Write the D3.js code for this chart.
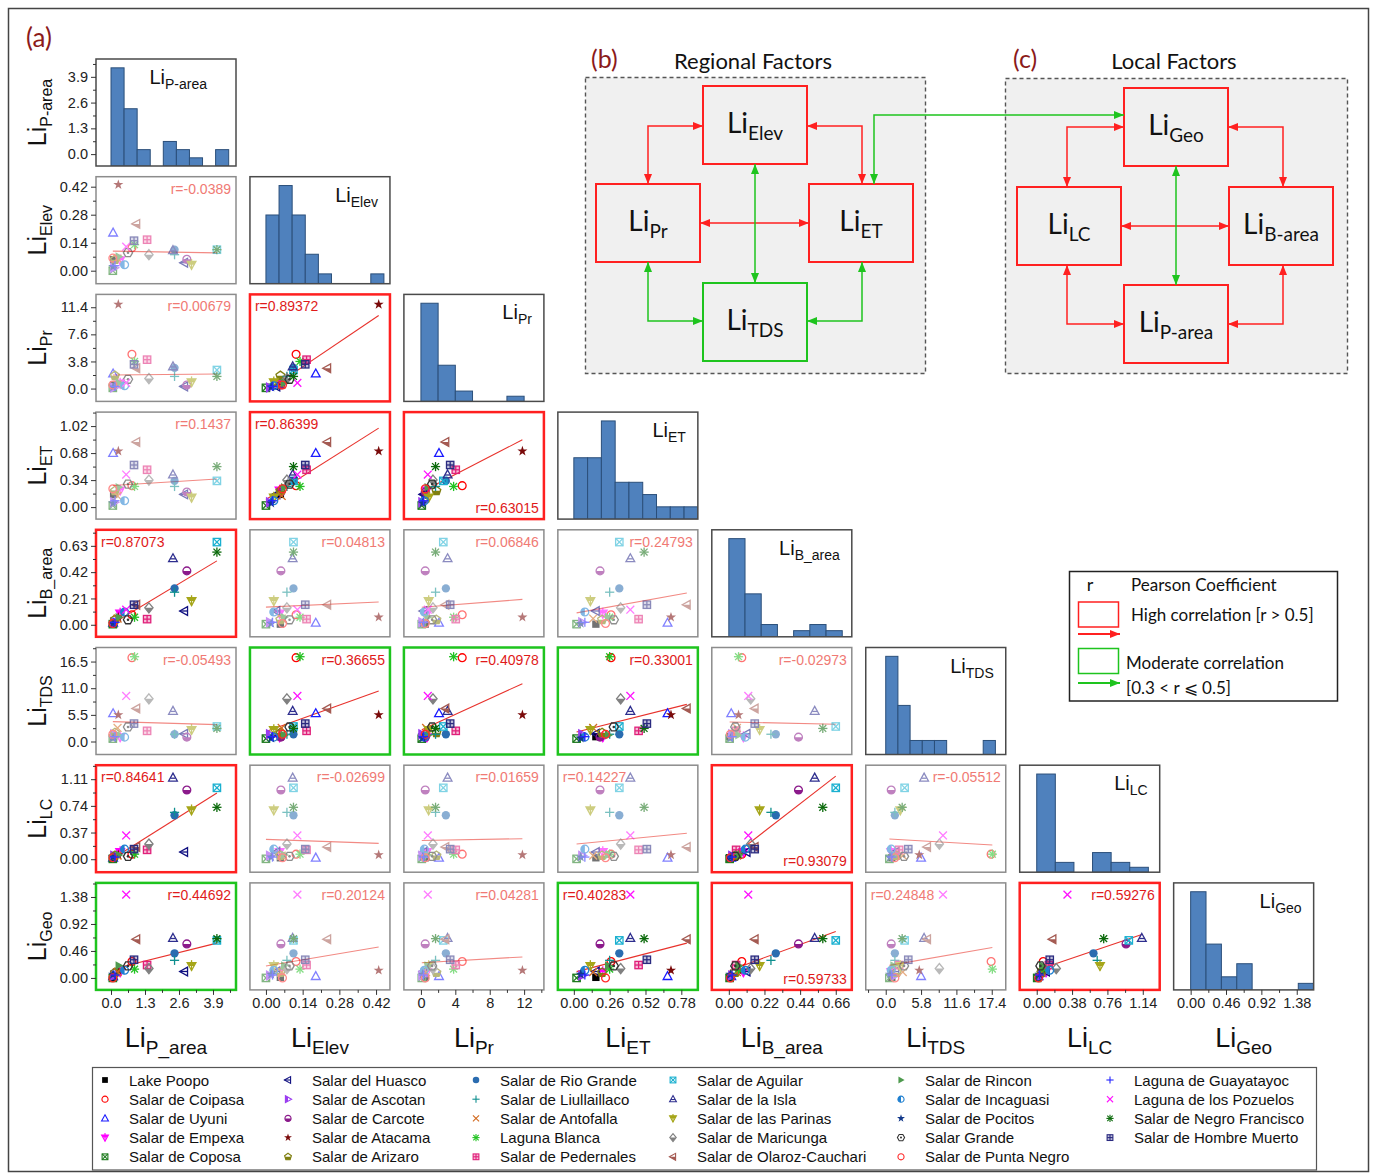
<!DOCTYPE html>
<html>
<head>
<meta charset="utf-8">
<script src="https://cdn.jsdelivr.net/npm/d3@7"></script>
<style>
  body { margin: 0; background: #fff; }
  text { font-family: "Liberation Sans", Arial, sans-serif; }
  .cal { font-family: Lato, "Open Sans", sans-serif; }
</style>
</head>
<body>
<svg id="fig" width="1373" height="1174"></svg>
<script>
// ---------------- data ----------------
const siteNames = [
  "Lake Poopo", "Salar de Coipasa", "Salar de Uyuni", "Salar de Empexa", "Salar de Coposa",
  "Salar del Huasco", "Salar de Ascotan", "Salar de Carcote", "Salar de Atacama", "Salar de Arizaro",
  "Salar de Rio Grande", "Salar de Liullaillaco", "Salar de Antofalla", "Laguna Blanca", "Salar de Pedernales",
  "Salar de Aguilar", "Salar de la Isla", "Salar de las Parinas", "Salar de Maricunga", "Salar de Olaroz-Cauchari",
  "Salar de Rincon", "Salar de Incaguasi", "Salar de Pocitos", "Salar Grande", "Salar de Punta Negro",
  "Laguna de Guayatayoc", "Laguna de los Pozuelos", "Salar de Negro Francisco", "Salar de Hombre Muerto"
];
const siteSymbols = [
  "square-fill", "circle-open", "tri-up-open", "tri-down-stem", "square-x",
  "tri-left-line", "tri-right-half", "circle-half", "star-fill", "pent-half",
  "circle-fill", "plus", "cross", "asterisk", "square-plus",
  "square-x", "tri-up-line", "tri-down-stem", "diamond-half", "tri-left-half",
  "tri-right-fill", "circle-half-left", "star-fill", "hex-dot", "circle-open",
  "plus", "cross", "asterisk", "square-plus"
];
const siteColors = [
  "#000000", "#ff0000", "#1a1aff", "#ff00ff", "#1d7a1d",
  "#101080", "#9a3cf0", "#8b1a8b", "#7a0a0a", "#7f7f10",
  "#2a6cb0", "#0f8f8f", "#d2691e", "#22c322", "#e0207a",
  "#1ab0d0", "#2e2e8e", "#a6a61a", "#808080", "#a45a52",
  "#4e9a4e", "#1e7fd0", "#13398a", "#333333", "#ff2a2a",
  "#2323ff", "#ff10ff", "#0b6a0b", "#2b2b80"
];

// lithium indices per site (same order as siteNames)
const liPArea = [0.10, 0.80, 0.08, 0.35, 0.07, 2.80, 0.12, 2.90, 0.28, 0.15,
                 2.43, 2.43, 0.25, 0.90, 1.38, 4.05, 2.37, 3.08, 1.45, 0.97,
                 0.30, 0.52, 0.08, 0.65, 0.07, 0.15, 0.58, 4.05, 0.88];
const liElev  = [0.055, 0.115, 0.19, 0.052, 0.0, 0.04, 0.015, 0.057, 0.43, 0.055,
                 0.105, 0.08, 0.06, 0.13, 0.155, 0.105, 0.102, 0.03, 0.08, 0.234,
                 0.07, 0.03, 0.02, 0.09, 0.063, 0.025, 0.12, 0.105, 0.15];
const liPr    = [0.5, 4.8, 2.1, 0.7, 0.1, 0.3, 0.15, 0.5, 11.8, 1.8,
                 2.9, 1.7, 0.6, 3.8, 4.05, 2.6, 3.1, 0.9, 1.4, 2.85,
                 0.8, 0.4, 0.2, 1.3, 0.5, 0.3, 0.8, 1.7, 3.4];
const liET    = [0.16, 0.27, 0.68, 0.21, 0.02, 0.16, 0.06, 0.19, 0.705, 0.205,
                 0.33, 0.26, 0.14, 0.26, 0.47, 0.33, 0.41, 0.12, 0.34, 0.82,
                 0.25, 0.08, 0.05, 0.29, 0.23, 0.08, 0.41, 0.51, 0.53];
const liBArea = [0.005, 0.08, 0.015, 0.09, 0.005, 0.11, 0.02, 0.43, 0.06, 0.04,
                 0.29, 0.26, 0.05, 0.06, 0.045, 0.66, 0.53, 0.19, 0.135, 0.16,
                 0.06, 0.102, 0.01, 0.04, 0.01, 0.02, 0.12, 0.58, 0.16];
const liTDS   = [1.0, 17.3, 5.8, 0.9, 0.6, 1.6, 1.5, 0.9, 5.5, 1.8,
                 1.5, 1.5, 2.8, 17.5, 2.2, 3.1, 6.3, 2.4, 8.8, 6.8,
                 1.3, 0.9, 0.7, 3.0, 1.5, 1.0, 9.4, 2.7, 3.7];
const liLC    = [0.02, 0.07, 0.02, 0.10, 0.005, 0.10, 0.05, 0.96, 0.06, 0.05,
                 0.61, 0.65, 0.05, 0.07, 0.13, 0.99, 1.13, 0.68, 0.21, 0.17,
                 0.06, 0.14, 0.03, 0.04, 0.02, 0.03, 0.33, 0.72, 0.14];
const liGeo   = [0.01, 0.28, 0.03, 0.10, 0.0, 0.11, 0.04, 0.58, 0.13, 0.09,
                 0.42, 0.30, 0.10, 0.15, 0.22, 0.64, 0.68, 0.205, 0.16, 0.66,
                 0.21, 0.13, 0.06, 0.205, 0.0, 0.05, 1.42, 0.67, 0.31];

const factorValues = [liPArea, liElev, liPr, liET, liBArea, liTDS, liLC, liGeo];
const rowSubs = ["P-area", "Elev", "Pr", "ET", "B_area", "TDS", "LC", "Geo"];
const colSubs = ["P_area", "Elev", "Pr", "ET", "B_area", "TDS", "LC", "Geo"];
const histSubs = ["P-area", "Elev", "Pr", "ET", "B_area", "TDS", "LC", "Geo"];
const binWidths = [0.5, 0.05, 2, 0.1, 0.1, 2, 0.2, 0.2];

// Pearson coefficients for the lower triangle: pearsonR[row][col]
const pearsonR = [
  [],
  [-0.0389],
  [0.00679, 0.89372],
  [0.1437, 0.86399, 0.63015],
  [0.87073, 0.04813, 0.06846, 0.24793],
  [-0.05493, 0.36655, 0.40978, 0.33001, -0.02973],
  [0.84641, -0.02699, 0.01659, 0.14227, 0.93079, -0.05512],
  [0.44692, 0.20124, 0.04281, 0.40283, 0.59733, 0.24848, 0.59276]
];
const pearsonText = [
  [],
  ["r=-0.0389"],
  ["r=0.00679", "r=0.89372"],
  ["r=0.1437", "r=0.86399", "r=0.63015"],
  ["r=0.87073", "r=0.04813", "r=0.06846", "r=0.24793"],
  ["r=-0.05493", "r=0.36655", "r=0.40978", "r=0.33001", "r=-0.02973"],
  ["r=0.84641", "r=-0.02699", "r=0.01659", "r=0.14227", "r=0.93079", "r=-0.05512"],
  ["r=0.44692", "r=0.20124", "r=0.04281", "r=0.40283", "r=0.59733", "r=0.24848", "r=0.59276"]
];

// axis ticks
const xTickValues = [[0,1.3,2.6,3.9],[0,0.14,0.28,0.42],[0,4,8,12],[0,0.26,0.52,0.78],
                     [0,0.22,0.44,0.66],[0,5.8,11.6,17.4],[0,0.38,0.76,1.14],[0,0.46,0.92,1.38]];
const xTickLabels = [["0.0","1.3","2.6","3.9"],["0.00","0.14","0.28","0.42"],["0","4","8","12"],
                     ["0.00","0.26","0.52","0.78"],["0.00","0.22","0.44","0.66"],["0.0","5.8","11.6","17.4"],
                     ["0.00","0.38","0.76","1.14"],["0.00","0.46","0.92","1.38"]];
const yTickValues = [[0,1.3,2.6,3.9],[0,0.14,0.28,0.42],[0,3.8,7.6,11.4],[0,0.34,0.68,1.02],
                     [0,0.21,0.42,0.63],[0,5.5,11,16.5],[0,0.37,0.74,1.11],[0,0.46,0.92,1.38]];
const yTickLabels = [["0.0","1.3","2.6","3.9"],["0.00","0.14","0.28","0.42"],["0.0","3.8","7.6","11.4"],
                     ["0.00","0.34","0.68","1.02"],["0.00","0.21","0.42","0.63"],["0.0","5.5","11.0","16.5"],
                     ["0.00","0.37","0.74","1.11"],["0.00","0.46","0.92","1.38"]];

// axis ranges
const xDomains = [[-0.574,4.78],[-0.061,0.473],[-1.98,14.3],[-0.116,0.9],
                  [-0.105,0.759],[-3.28,19.7],[-0.183,1.322],[-0.221,1.60]];
const yDomains = [[-0.6,4.8],[-0.065,0.47],[-1.8,13.2],[-0.151,1.196],
                  [-0.096,0.758],[-2.68,19.4],[-0.18,1.304],[-0.204,1.62]];

// ---------------- layout ----------------
const W = 1373, H = 1174;
const PW = 140, PH = 107;
const panelX = j => 96 + j * 153.95;
const panelY = i => 59 + i * 117.7;
const N = 8;

// where each coefficient label sits inside its panel
const labelCorner = { "2-1":"tl", "3-1":"tl", "4-0":"tl", "6-0":"tl", "6-3":"tl", "7-3":"tl", "7-5":"tl",
                      "3-2":"br", "6-4":"br", "7-4":"br" };

const RED = "#ff2020", GREEN = "#1ec41e";
const svg = d3.select("#fig");
svg.append("rect").attr("width", W).attr("height", H).attr("fill", "#fff");
svg.append("rect").attr("x", 8.5).attr("y", 8.5).attr("width", 1360).attr("height", 1163)
  .attr("fill", "none").attr("stroke", "#444").attr("stroke-width", 1.5);

const defs = svg.append("defs");
defs.append("clipPath").attr("id", "halfLow").append("rect").attr("x", -20).attr("y", 0).attr("width", 40).attr("height", 20);
defs.append("clipPath").attr("id", "halfLeft").append("rect").attr("x", -20).attr("y", -20).attr("width", 20).attr("height", 40);
defs.append("clipPath").attr("id", "halfTop").append("rect").attr("x", -20).attr("y", -20).attr("width", 40).attr("height", 20);

// ---------------- symbols ----------------
const poly = pts => pts.map(p => p[0].toFixed(2) + "," + p[1].toFixed(2)).join(" ");
function shapeSet(s) {
  return {
    up: [[0, -s], [s * 0.95, s * 0.72], [-s * 0.95, s * 0.72]],
    down: [[0, s], [s * 0.95, -s * 0.72], [-s * 0.95, -s * 0.72]],
    left: [[-s, 0], [s * 0.72, -s * 0.95], [s * 0.72, s * 0.95]],
    right: [[s, 0], [-s * 0.72, -s * 0.95], [-s * 0.72, s * 0.95]],
    diamond: [[0, -s * 1.1], [s * 0.9, 0], [0, s * 1.1], [-s * 0.9, 0]],
    pent: d3.range(5).map(k => { const a = -Math.PI / 2 + k * 2 * Math.PI / 5; return [s * Math.cos(a), s * Math.sin(a)]; }),
    hex: d3.range(6).map(k => { const a = k * Math.PI / 3; return [s * Math.cos(a), s * Math.sin(a)]; }),
    star: d3.range(10).map(k => { const a = -Math.PI / 2 + k * Math.PI / 5; const r = k % 2 ? s * 0.45 : s * 1.15; return [r * Math.cos(a), r * Math.sin(a)]; })
  };
}
function drawSymbol(g, type, color, s) {
  const sh = shapeSet(s), sw = s > 4 ? 1.3 : 1.1;
  const outline = pts => g.append("polygon").attr("points", poly(pts)).attr("fill", "none").attr("stroke", color).attr("stroke-width", sw);
  const filled = (pts, clip) => { const p = g.append("polygon").attr("points", poly(pts)).attr("fill", color); if (clip) p.attr("clip-path", `url(#${clip})`); };
  const seg = (x1, y1, x2, y2) => g.append("line").attr("x1", x1).attr("y1", y1).attr("x2", x2).attr("y2", y2).attr("stroke", color).attr("stroke-width", sw);
  const a = s * 0.8;
  switch (type) {
    case "square-fill":
      g.append("rect").attr("x", -a).attr("y", -a).attr("width", 2 * a).attr("height", 2 * a).attr("fill", color); break;
    case "circle-open":
      g.append("circle").attr("r", s * 0.85).attr("fill", "none").attr("stroke", color).attr("stroke-width", sw); break;
    case "circle-fill":
      g.append("circle").attr("r", s * 0.9).attr("fill", color); break;
    case "circle-half":
      g.append("circle").attr("r", s * 0.85).attr("fill", color).attr("clip-path", "url(#halfLow)");
      g.append("circle").attr("r", s * 0.85).attr("fill", "none").attr("stroke", color).attr("stroke-width", sw); break;
    case "circle-half-left":
      g.append("circle").attr("r", s * 0.85).attr("fill", color).attr("clip-path", "url(#halfLeft)");
      g.append("circle").attr("r", s * 0.85).attr("fill", "none").attr("stroke", color).attr("stroke-width", sw); break;
    case "tri-up-open": outline(sh.up); break;
    case "tri-up-line": outline(sh.up); seg(-s * 0.55, s * 0.1, s * 0.55, s * 0.1); break;
    case "tri-down-stem": filled(sh.down, "halfTop"); outline(sh.down); seg(0, -s * 1.25, 0, s); break;
    case "tri-left-line": outline(sh.left); seg(-s, 0, s * 0.72, 0); break;
    case "tri-left-half": filled(sh.left, "halfLow"); outline(sh.left); break;
    case "tri-right-half": filled(sh.right, "halfLeft"); outline(sh.right); break;
    case "tri-right-fill": filled(sh.right); break;
    case "diamond-half": filled(sh.diamond, "halfLow"); outline(sh.diamond); break;
    case "pent-half": filled(sh.pent, "halfLow"); outline(sh.pent); break;
    case "hex-dot": outline(sh.hex); g.append("circle").attr("r", s * 0.28).attr("fill", color); break;
    case "star-fill": filled(sh.star); break;
    case "square-x":
      g.append("rect").attr("x", -a).attr("y", -a).attr("width", 2 * a).attr("height", 2 * a).attr("fill", "none").attr("stroke", color).attr("stroke-width", sw);
      seg(-a, -a, a, a); seg(-a, a, a, -a); break;
    case "square-plus":
      g.append("rect").attr("x", -a).attr("y", -a).attr("width", 2 * a).attr("height", 2 * a).attr("fill", color).attr("fill-opacity", 0.3).attr("stroke", color).attr("stroke-width", sw);
      seg(-a, 0, a, 0); seg(0, -a, 0, a); break;
    case "plus": seg(-s, 0, s, 0); seg(0, -s, 0, s); break;
    case "cross": seg(-s * 0.85, -s * 0.85, s * 0.85, s * 0.85); seg(-s * 0.85, s * 0.85, s * 0.85, -s * 0.85); break;
    case "asterisk":
      seg(-s, 0, s, 0); seg(0, -s, 0, s);
      seg(-s * 0.75, -s * 0.75, s * 0.75, s * 0.75); seg(-s * 0.75, s * 0.75, s * 0.75, -s * 0.75); break;
  }
}

// "Li" with a subscript
function liLabel(sel, sub, big, small, shift) {
  sel.append("tspan").attr("font-size", big).text("Li");
  sel.append("tspan").attr("font-size", small).attr("dy", shift).text(sub);
}

// ---------------- scales ----------------
const xScales = d3.range(N).map(j => d3.scaleLinear().domain(xDomains[j]).range([panelX(j), panelX(j) + PW]));
const yScales = d3.range(N).map(i => d3.scaleLinear().domain(yDomains[i]).range([panelY(i) + PH, panelY(i)]));

function minorTicks(domain, majors) {
  const half = (majors[1] - majors[0]) / 2;
  const start = Math.ceil(domain[0] / half) * half;
  return d3.range(start, domain[1] + 1e-9, half).filter(v => !majors.some(m => Math.abs(m - v) < half * 0.1));
}
function linFit(xs, ys) {
  const mx = d3.mean(xs), my = d3.mean(ys);
  let sxy = 0, sxx = 0;
  xs.forEach((x, k) => { sxy += (x - mx) * (ys[k] - my); sxx += (x - mx) * (x - mx); });
  const b = sxy / sxx;
  return { a: my - b * mx, b };
}

const plot = svg.append("g");

// ---------------- panels ----------------
for (let i = 0; i < N; i++) {
  for (let j = 0; j <= i; j++) {
    const x0 = panelX(j), y0 = panelY(i);
    const g = plot.append("g");
    g.append("rect").attr("x", x0).attr("y", y0).attr("width", PW).attr("height", PH).attr("fill", "#fff");

    if (i === j) {
      // histogram of the factor
      const vals = factorValues[i];
      const bw = binWidths[i];
      const nb = Math.ceil((d3.max(vals) + 1e-9) / bw);
      const thresholds = d3.range(1, nb).map(k => +(k * bw).toFixed(6));
      const bins = d3.bin().domain([0, +(nb * bw).toFixed(6)]).thresholds(thresholds)(vals);
      const maxC = d3.max(bins, b => b.length);
      const yc = d3.scaleLinear().domain([0, maxC * 1.09]).range([y0 + PH, y0]);
      const xs = xScales[j];
      const clipId = "hclip" + i;
      defs.append("clipPath").attr("id", clipId).append("rect")
        .attr("x", x0).attr("y", y0).attr("width", PW).attr("height", PH);
      g.append("g").attr("clip-path", `url(#${clipId})`)
        .selectAll("rect").data(bins.filter(b => b.length > 0)).join("rect")
        .attr("x", b => xs(b.x0)).attr("width", b => xs(b.x1) - xs(b.x0))
        .attr("y", b => yc(b.length)).attr("height", b => y0 + PH - yc(b.length))
        .attr("fill", "#4f81bd").attr("stroke", "#2b4f7a").attr("stroke-width", 1);
      const t = g.append("text").attr("x", x0 + PW - (i === 0 ? 29 : 12)).attr("y", y0 + 25)
        .attr("text-anchor", "end").attr("fill", "#111");
      liLabel(t, histSubs[i], 20, 14, 5);
      g.append("rect").attr("x", x0).attr("y", y0).attr("width", PW).attr("height", PH)
        .attr("fill", "none").attr("stroke", "#4a4a4a").attr("stroke-width", 1.5);
    } else {
      const r = pearsonR[i][j];
      const strong = r > 0.5, moderate = r > 0.3 && r <= 0.5;
      const sig = strong || moderate;
      const xs = xScales[j], ys = yScales[i];
      const xv = factorValues[j], yv = factorValues[i];
      const fit = linFit(xv, yv);
      const xmin = d3.min(xv), xmax = d3.max(xv);
      g.append("line")
        .attr("x1", xs(xmin)).attr("y1", ys(fit.a + fit.b * xmin))
        .attr("x2", xs(xmax)).attr("y2", ys(fit.a + fit.b * xmax))
        .attr("stroke", sig ? "#e8322c" : "#f28a84").attr("stroke-width", 1.1);
      const mk = g.append("g").attr("opacity", sig ? 1 : 0.55);
      siteNames.forEach((name, k) => {
        const sg = mk.append("g").attr("transform", `translate(${xs(xv[k]).toFixed(2)},${ys(yv[k]).toFixed(2)})`);
        drawSymbol(sg, siteSymbols[k], siteColors[k], 4.6);
      });
      const corner = labelCorner[i + "-" + j] || "tr";
      const lt = g.append("text").attr("font-size", 14).attr("fill", sig ? "#e01a1a" : "#f07a74")
        .text(pearsonText[i][j]);
      if (corner === "tr") lt.attr("x", x0 + PW - 5).attr("y", y0 + 17).attr("text-anchor", "end");
      else if (corner === "tl") lt.attr("x", x0 + 5).attr("y", y0 + 17);
      else lt.attr("x", x0 + PW - 5).attr("y", y0 + PH - 6).attr("text-anchor", "end");
      g.append("rect").attr("x", x0).attr("y", y0).attr("width", PW).attr("height", PH)
        .attr("fill", "none")
        .attr("stroke", strong ? RED : moderate ? GREEN : "#8c8c8c")
        .attr("stroke-width", sig ? 2.5 : 1.5);
    }
  }
}

// ---------------- axes ----------------
function styleAxis(a) {
  a.select(".domain").remove();
  a.selectAll(".tick line").attr("stroke", "#333").attr("stroke-width", 1);
  a.selectAll(".tick text").attr("font-size", 14.5).attr("fill", "#222")
    .attr("font-family", "'Liberation Sans', Arial, sans-serif");
}
for (let i = 0; i < N; i++) {
  const ys = yScales[i];
  const ga = svg.append("g").attr("transform", `translate(${panelX(0)},0)`)
    .call(d3.axisLeft(ys).tickValues(yTickValues[i]).tickFormat((d, k) => yTickLabels[i][k]).tickSize(5).tickPadding(3));
  styleAxis(ga);
  const gm = svg.append("g").attr("transform", `translate(${panelX(0)},0)`)
    .call(d3.axisLeft(ys).tickValues(minorTicks(yDomains[i], yTickValues[i])).tickFormat("").tickSize(3));
  styleAxis(gm);
}
for (let j = 0; j < N; j++) {
  const xs = xScales[j];
  const yb = panelY(7) + PH;
  const ga = svg.append("g").attr("transform", `translate(0,${yb})`)
    .call(d3.axisBottom(xs).tickValues(xTickValues[j]).tickFormat((d, k) => xTickLabels[j][k]).tickSize(5).tickPadding(3));
  styleAxis(ga);
  const gm = svg.append("g").attr("transform", `translate(0,${yb})`)
    .call(d3.axisBottom(xs).tickValues(minorTicks(xDomains[j], xTickValues[j])).tickFormat("").tickSize(3));
  styleAxis(gm);
}

// axis titles
for (let j = 0; j < N; j++) {
  const t = svg.append("text").attr("x", panelX(j) + PW / 2).attr("y", 1047)
    .attr("text-anchor", "middle").attr("fill", "#111");
  liLabel(t, colSubs[j], 27, 19, 7);
}
for (let i = 0; i < N; i++) {
  const t = svg.append("text").attr("text-anchor", "middle").attr("fill", "#111")
    .attr("transform", `translate(46,${panelY(i) + PH / 2}) rotate(-90)`);
  liLabel(t, rowSubs[i], 25, 16, 6);
}

svg.append("text").attr("class", "cal").attr("x", 26).attr("y", 47).attr("font-size", 26).attr("fill", "#8b1a1a").text("(a)");

// ---------------- site legend ----------------
const leg = svg.append("g");
leg.append("rect").attr("x", 92.5).attr("y", 1067.5).attr("width", 1224).attr("height", 102.5)
  .attr("fill", "#fff").attr("stroke", "#555").attr("stroke-width", 1.2);
const legColX = [105, 288, 476, 673, 901, 1110];
siteNames.forEach((name, k) => {
  const c = Math.floor(k / 5), rr = k % 5;
  const cy = 1080 + rr * 19.2;
  const sg = leg.append("g").attr("transform", `translate(${legColX[c]},${cy})`);
  drawSymbol(sg, siteSymbols[k], siteColors[k], 3.6);
  leg.append("text").attr("x", legColX[c] + 24).attr("y", cy + 5.5).attr("font-size", 15).attr("fill", "#111").text(name);
});

// ---------------- factor diagrams ----------------
const diag = svg.append("g");
function arrowMarker(id, color) {
  defs.append("marker").attr("id", id).attr("viewBox", "0 0 10 8")
    .attr("refX", 10).attr("refY", 4).attr("markerWidth", 10).attr("markerHeight", 8)
    .attr("markerUnits", "userSpaceOnUse").attr("orient", "auto-start-reverse")
    .append("path").attr("d", "M0,0 L10,4 L0,8 Z").attr("fill", color);
}
arrowMarker("arrRed", RED);
arrowMarker("arrGreen", GREEN);

const regionBoxes = [
  { x: 585, y: 77, w: 340, h: 296, tag: "(b)", tagX: 591, title: "Regional Factors", titleX: 753 },
  { x: 1005, y: 78, w: 342, h: 295, tag: "(c)", tagX: 1013, title: "Local Factors", titleX: 1174 }
];
regionBoxes.forEach(b => {
  diag.append("rect").attr("x", b.x + 0.5).attr("y", b.y + 0.5).attr("width", b.w).attr("height", b.h)
    .attr("fill", "#f0f0f0").attr("stroke", "#555").attr("stroke-width", 1.4).attr("stroke-dasharray", "4 3");
  diag.append("text").attr("class", "cal").attr("x", b.tagX).attr("y", 68).attr("font-size", 25).attr("fill", "#8b1a1a").text(b.tag);
  diag.append("text").attr("class", "cal").attr("x", b.titleX).attr("y", 69).attr("text-anchor", "middle")
    .attr("font-size", 22).attr("fill", "#111").text(b.title);
});

const factorBoxes = [
  { sub: "Elev", x: 703, y: 86, color: RED },
  { sub: "Pr", x: 596, y: 184, color: RED },
  { sub: "ET", x: 809, y: 184, color: RED },
  { sub: "TDS", x: 703, y: 283, color: GREEN },
  { sub: "Geo", x: 1124, y: 88, color: RED },
  { sub: "LC", x: 1017, y: 187, color: RED },
  { sub: "B-area", x: 1229, y: 187, color: RED },
  { sub: "P-area", x: 1124, y: 285, color: RED }
];
const BW = 104, BH = 78;
factorBoxes.forEach(b => {
  diag.append("rect").attr("x", b.x).attr("y", b.y).attr("width", BW).attr("height", BH)
    .attr("fill", "none").attr("stroke", b.color).attr("stroke-width", 2);
  const t = diag.append("text").attr("class", "cal").attr("x", b.x + BW / 2).attr("y", b.y + BH / 2 + 8)
    .attr("text-anchor", "middle").attr("fill", "#111");
  liLabel(t, b.sub, 28, 19, 7);
});

const links = [
  { d: "M703,126 H648 V184", c: "red" },
  { d: "M807,126 H862 V184", c: "red" },
  { d: "M700,223 H809", c: "red" },
  { d: "M755,164 V283", c: "green" },
  { d: "M648,262 V321 H703", c: "green" },
  { d: "M862,262 V321 H807", c: "green" },
  { d: "M874,184 V115 H1124", c: "green" },
  { d: "M1124,127 H1067 V187", c: "red" },
  { d: "M1228,127 H1283 V187", c: "red" },
  { d: "M1121,226 H1229", c: "red" },
  { d: "M1176,166 V285", c: "green" },
  { d: "M1067,265 V324 H1124", c: "red" },
  { d: "M1283,265 V324 H1228", c: "red" }
];
links.forEach(l => {
  const id = l.c === "red" ? "arrRed" : "arrGreen";
  diag.append("path").attr("d", l.d).attr("fill", "none")
    .attr("stroke", l.c === "red" ? RED : GREEN).attr("stroke-width", 1.5)
    .attr("marker-start", `url(#${id})`).attr("marker-end", `url(#${id})`);
});

// ---------------- correlation key ----------------
const key = svg.append("g").attr("class", "cal");
key.append("rect").attr("x", 1069.5).attr("y", 571.5).attr("width", 268).attr("height", 129.5)
  .attr("fill", "#fff").attr("stroke", "#222").attr("stroke-width", 1.5);
key.append("text").attr("class", "cal").attr("x", 1090).attr("y", 591).attr("text-anchor", "middle").attr("font-size", 18).attr("fill", "#111").text("r");
key.append("text").attr("class", "cal").attr("x", 1131).attr("y", 591).attr("font-size", 17).attr("fill", "#111").text("Pearson Coefficient");
key.append("rect").attr("x", 1078.5).attr("y", 602).attr("width", 40).attr("height", 25).attr("fill", "none").attr("stroke", RED).attr("stroke-width", 1.5);
key.append("text").attr("class", "cal").attr("x", 1131).attr("y", 621).attr("font-size", 17).attr("fill", "#111").text("High correlation [r > 0.5]");
key.append("path").attr("d", "M1078,634 H1120").attr("stroke", RED).attr("stroke-width", 1.8).attr("marker-end", "url(#arrRed)");
key.append("rect").attr("x", 1078.5).attr("y", 648.5).attr("width", 40).attr("height", 25).attr("fill", "none").attr("stroke", GREEN).attr("stroke-width", 1.5);
key.append("text").attr("class", "cal").attr("x", 1126).attr("y", 669).attr("font-size", 17).attr("fill", "#111").text("Moderate correlation");
key.append("path").attr("d", "M1078,683 H1120").attr("stroke", GREEN).attr("stroke-width", 1.8).attr("marker-end", "url(#arrGreen)");
key.append("text").attr("class", "cal").attr("x", 1126).attr("y", 694).attr("font-size", 17).attr("fill", "#111").text("[0.3 < r \u2A7D 0.5]");
</script>
</body>
</html>
